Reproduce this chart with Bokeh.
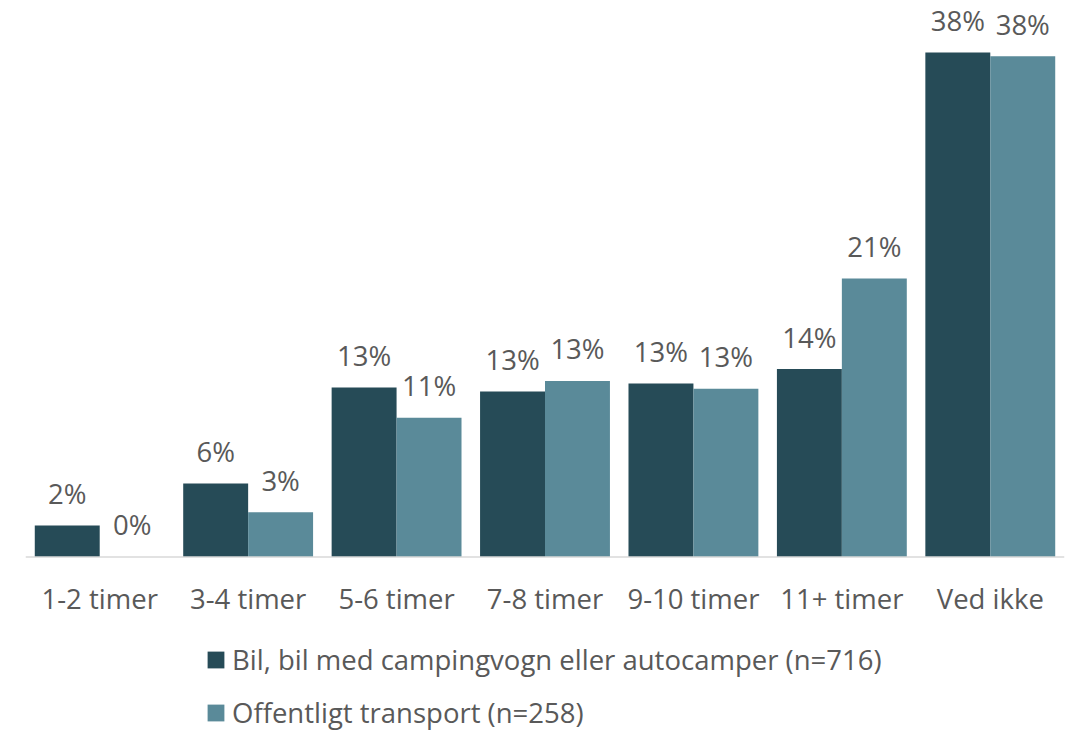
from bokeh.plotting import figure
from bokeh.models import ColumnDataSource, FactorRange, Range1d, Legend, LegendItem, Span
from bokeh.transform import dodge
from bokeh.core.properties import value
from bokeh.embed import file_html
from bokeh.resources import INLINE

categories = ["1-2 timer", "3-4 timer", "5-6 timer", "7-8 timer", "9-10 timer", "11+ timer", "Ved ikke"]
bil = [2.4, 5.6, 12.9, 12.6, 13.2, 14.3, 38.4]
offentlig = [0.0, 3.4, 10.6, 13.4, 12.8, 21.2, 38.1]
bil_labels = ["2%", "6%", "13%", "13%", "13%", "14%", "38%"]
off_labels = ["0%", "3%", "11%", "13%", "13%", "21%", "38%"]
series_names = ["Bil, bil med campingvogn eller autocamper (n=716)", "Offentligt transport (n=258)"]

DARK = "#264B57"
LIGHT = "#5A8A99"
TXT = "#595959"
FONT = "Open Sans"
FS = "27.5px"

src = ColumnDataSource(dict(cat=categories, bil=bil, off=offentlig, bl=bil_labels, ol=off_labels,
                            zero=[0] * len(categories)))

p = figure(x_range=FactorRange(*categories, range_padding=0), y_range=Range1d(-13.28, 42.35),
           width=1071, height=731, output_backend="svg", toolbar_location=None,
           min_border_left=25, min_border_right=7, min_border_top=0, min_border_bottom=0)
p.outline_line_color = None
p.background_fill_color = "white"
p.border_fill_color = "white"
p.xgrid.visible = False
p.ygrid.visible = False
p.xaxis.visible = False
p.yaxis.visible = False

w = 0.4375
r1 = p.vbar(x=dodge("cat", -w / 2, range=p.x_range), top="bil", width=w, source=src,
            fill_color=DARK, line_color=None)
r2 = p.vbar(x=dodge("cat", w / 2, range=p.x_range), top="off", width=w, source=src,
            fill_color=LIGHT, line_color=None)

p.add_layout(Span(location=0, dimension="width", line_color="#D9D9D9", line_width=1.5))

p.text(x=dodge("cat", -w / 2, range=p.x_range), y="bil", text="bl", source=src,
       text_align="center", text_baseline="alphabetic", y_offset=-32,
       text_font=value(FONT), text_font_size=FS, text_color=TXT)
p.text(x=dodge("cat", w / 2, range=p.x_range), y="off", text="ol", source=src,
       text_align="center", text_baseline="alphabetic", y_offset=-32,
       text_font=value(FONT), text_font_size=FS, text_color=TXT)

# category labels
p.text(x="cat", y="zero", text="cat", source=src,
       text_align="center", text_baseline="alphabetic", y_offset=42,
       text_font=value(FONT), text_font_size=FS, text_color=TXT)

legend = Legend(items=[LegendItem(label=series_names[0], renderers=[r1]),
                       LegendItem(label=series_names[1], renderers=[r2])],
                location=(180, 0), orientation="vertical",
                glyph_width=21, glyph_height=21, label_standoff=6,
                label_text_font=FONT, label_text_font_size=FS, label_text_color=TXT,
                label_height=30, spacing=16, padding=0, margin=0,
                border_line_color=None, background_fill_alpha=0)
p.add_layout(legend, "center")

open("out.html", "w").write(file_html(p, INLINE))
